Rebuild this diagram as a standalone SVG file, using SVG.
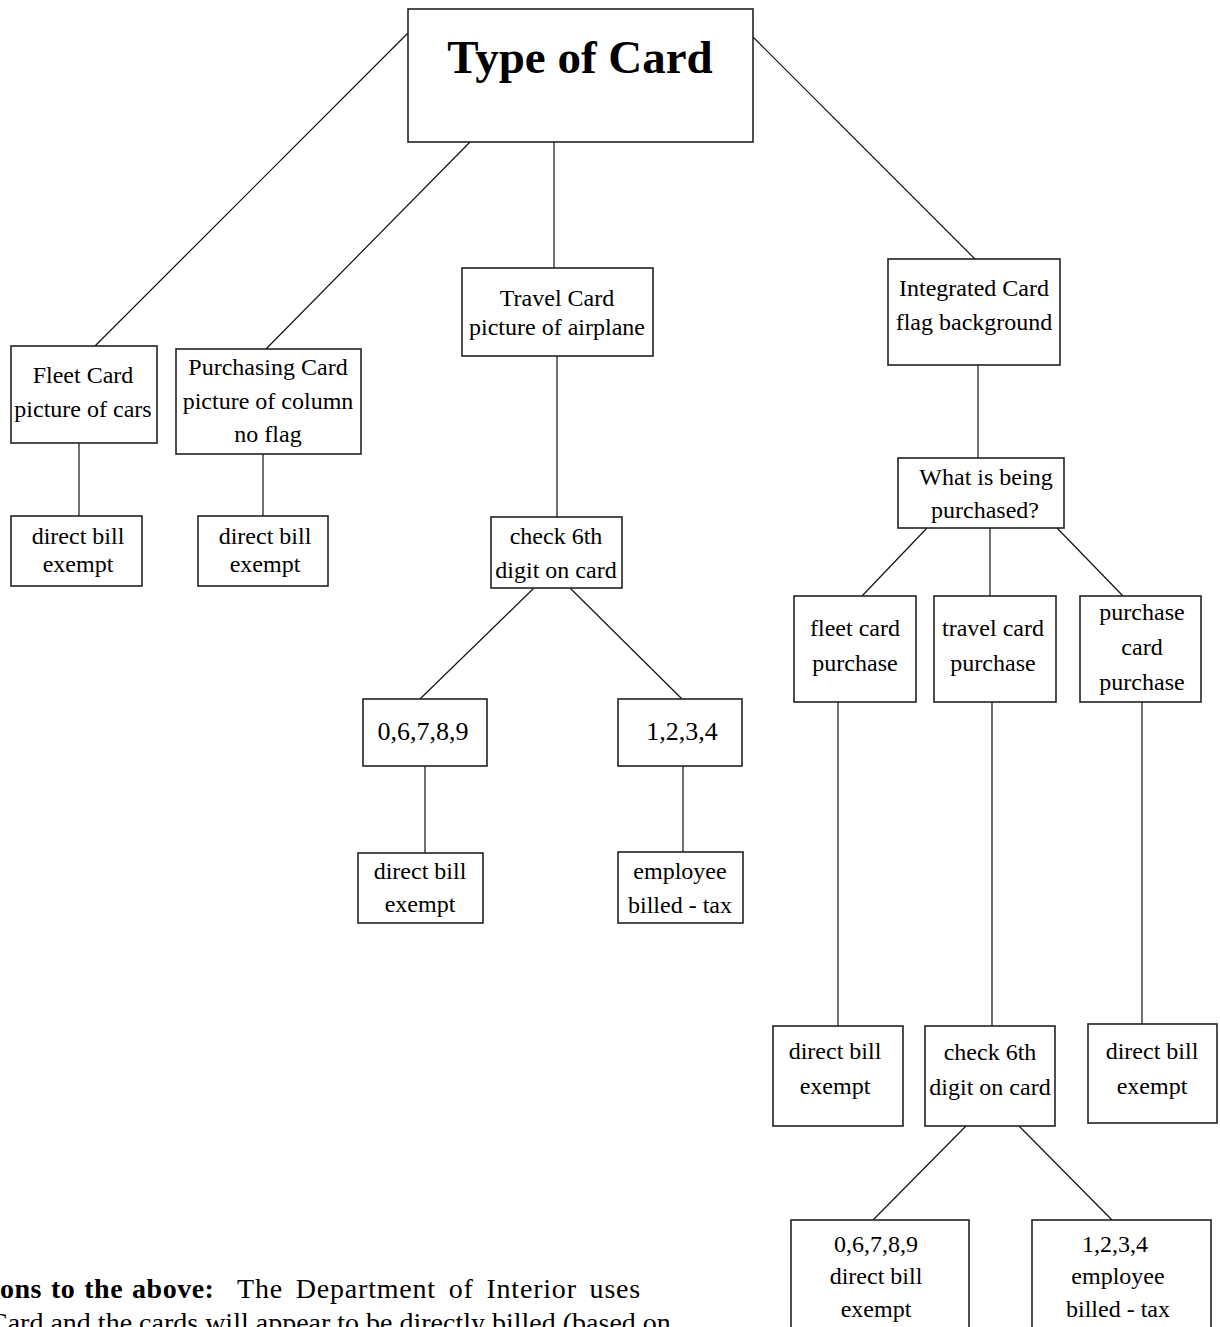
<svg xmlns="http://www.w3.org/2000/svg" width="1220" height="1327" viewBox="0 0 1220 1327">
<style>
rect.n{fill:#fff;stroke:#222;stroke-width:1.6}
text{font-family:"Liberation Serif","Times New Roman",serif;font-size:24px;fill:#000;text-anchor:middle}
text.big{font-size:26px}
text.title{font-size:47px;font-weight:bold}
text.note{font-size:28px;text-anchor:start}
#connectors line{stroke:#111;stroke-width:1.2}
</style>
<rect width="1220" height="1327" fill="#fff"/>
<g id="connectors">
<line x1="408" y1="33" x2="95" y2="346"/>
<line x1="470" y1="142" x2="266" y2="349"/>
<line x1="554" y1="142" x2="554" y2="268"/>
<line x1="753" y1="37" x2="975" y2="259"/>
<line x1="79" y1="443" x2="79" y2="516"/>
<line x1="263" y1="454" x2="263" y2="516"/>
<line x1="557" y1="356" x2="557" y2="517"/>
<line x1="534" y1="588" x2="420" y2="699"/>
<line x1="570" y1="588" x2="682" y2="699"/>
<line x1="425" y1="766" x2="425" y2="853"/>
<line x1="683" y1="766" x2="683" y2="852"/>
<line x1="978" y1="365" x2="978" y2="458"/>
<line x1="927" y1="528" x2="862" y2="596"/>
<line x1="990" y1="528" x2="990" y2="596"/>
<line x1="1057" y1="528" x2="1123" y2="596"/>
<line x1="838" y1="702" x2="838" y2="1026"/>
<line x1="992" y1="702" x2="992" y2="1026"/>
<line x1="1142" y1="702" x2="1142" y2="1024"/>
<line x1="966" y1="1126" x2="873" y2="1220"/>
<line x1="1019" y1="1126" x2="1112" y2="1220"/>
</g>
<g id="type-of-card"><rect class="n" x="408" y="9" width="345" height="133"/><text class="title" x="580" y="73">Type of Card</text></g>
<g id="fleet-card"><rect class="n" x="11" y="346" width="146" height="97"/><text x="83" y="383">Fleet Card</text><text x="83" y="417">picture of cars</text></g>
<g id="purchasing-card"><rect class="n" x="176" y="349" width="185" height="105"/><text x="268" y="375">Purchasing Card</text><text x="268" y="409">picture of column</text><text x="268" y="442">no flag</text></g>
<g id="fleet-direct"><rect class="n" x="11" y="516" width="131" height="70"/><text x="78" y="544">direct bill</text><text x="78" y="572">exempt</text></g>
<g id="purchasing-direct"><rect class="n" x="198" y="516" width="130" height="70"/><text x="265" y="544">direct bill</text><text x="265" y="572">exempt</text></g>
<g id="travel-card"><rect class="n" x="462" y="268" width="191" height="88"/><text x="557" y="306">Travel Card</text><text x="557" y="335">picture of airplane</text></g>
<g id="travel-check"><rect class="n" x="491" y="517" width="131" height="71"/><text x="556" y="544">check 6th</text><text x="556" y="578">digit on card</text></g>
<g id="travel-06789"><rect class="n" x="363" y="699" width="124" height="67"/><text class="big" x="423" y="740">0,6,7,8,9</text></g>
<g id="travel-1234"><rect class="n" x="618" y="699" width="124" height="67"/><text class="big" x="682" y="740">1,2,3,4</text></g>
<g id="travel-direct"><rect class="n" x="358" y="853" width="125" height="70"/><text x="420" y="879">direct bill</text><text x="420" y="912">exempt</text></g>
<g id="travel-employee"><rect class="n" x="618" y="852" width="125" height="71"/><text x="680" y="879">employee</text><text x="680" y="913">billed - tax</text></g>
<g id="integrated-card"><rect class="n" x="888" y="259" width="172" height="106"/><text x="974" y="296">Integrated Card</text><text x="974" y="330">flag background</text></g>
<g id="what-purchased"><rect class="n" x="898" y="458" width="166" height="70"/><text x="986" y="485">What is being</text><text x="985" y="518">purchased?</text></g>
<g id="fleet-purchase"><rect class="n" x="794" y="596" width="122" height="106"/><text x="855" y="636">fleet card</text><text x="855" y="671">purchase</text></g>
<g id="travel-purchase"><rect class="n" x="934" y="596" width="122" height="106"/><text x="993" y="636">travel card</text><text x="993" y="671">purchase</text></g>
<g id="purchase-purchase"><rect class="n" x="1080" y="596" width="121" height="106"/><text x="1142" y="620">purchase</text><text x="1142" y="655">card</text><text x="1142" y="690">purchase</text></g>
<g id="int-fleet-direct"><rect class="n" x="773" y="1026" width="130" height="100"/><text x="835" y="1059">direct bill</text><text x="835" y="1094">exempt</text></g>
<g id="int-check"><rect class="n" x="925" y="1026" width="130" height="100"/><text x="990" y="1060">check 6th</text><text x="990" y="1095">digit on card</text></g>
<g id="int-purchase-direct"><rect class="n" x="1088" y="1024" width="129" height="99"/><text x="1152" y="1059">direct bill</text><text x="1152" y="1094">exempt</text></g>
<g id="int-06789"><rect class="n" x="791" y="1220" width="178" height="120"/><text x="876" y="1252">0,6,7,8,9</text><text x="876" y="1284">direct bill</text><text x="876" y="1317">exempt</text></g>
<g id="int-1234"><rect class="n" x="1032" y="1220" width="179" height="120"/><text x="1115" y="1252">1,2,3,4</text><text x="1118" y="1284">employee</text><text x="1118" y="1317">billed - tax</text></g>
<g id="note">
<text class="note" x="0" y="1298" font-weight="bold" letter-spacing="0.5" word-spacing="1.5">ons to the above:</text>
<text class="note" x="237" y="1298" letter-spacing="0.8" word-spacing="5">The Department of Interior uses</text>
<text class="note" x="-11" y="1332">Card and the cards will appear to be directly billed (based on</text>
</g>
</svg>
